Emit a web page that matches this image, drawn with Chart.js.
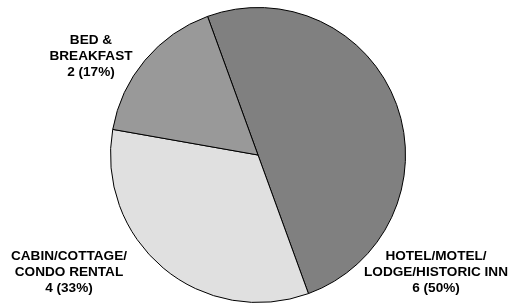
<!DOCTYPE html>
<html>
<head>
<meta charset="utf-8">
<script src="https://cdn.jsdelivr.net/npm/chart.js@4"></script>
<style>
  html, body { margin: 0; padding: 0; background: #fff; }
  #wrap { width: 509px; height: 303px; }
</style>
</head>
<body>
<div id="wrap"><canvas id="pieChart" width="509" height="303"></canvas></div>
<script>
// Lodging type data
const categories = ['HOTEL/MOTEL/\nLODGE/HISTORIC INN', 'CABIN/COTTAGE/\nCONDO RENTAL', 'BED &\nBREAKFAST'];
const counts = [6, 4, 2];
const percents = [50, 33, 17];
const sliceColors = ['#808080', '#e0e0e0', '#999999'];

// Where each label block sits (offset of its centre from the pie centre)
const labelOffsets = [[178, 117], [-189, 117], [-167, -99]];

const labelPlugin = {
    id: 'sliceLabels',
    afterDraw(chart) {
        const ctx = chart.ctx;
        const arc = chart.getDatasetMeta(0).data[0];
        const cx = arc.x, cy = arc.y;
        ctx.save();
        ctx.font = 'bold 13.6px "Liberation Sans", Arial, sans-serif';
        ctx.fillStyle = '#000';
        ctx.textAlign = 'center';
        ctx.textBaseline = 'middle';
        categories.forEach((cat, i) => {
            const lines = cat.split('\n');
            lines.push(counts[i] + ' (' + percents[i] + '%)');
            const x = cx + labelOffsets[i][0];
            const y = cy + labelOffsets[i][1];
            const lh = 16;
            lines.forEach((ln, j) => {
                ctx.fillText(ln, x, y + (j - (lines.length - 1) / 2) * lh);
            });
        });
        ctx.restore();
    }
};

new Chart(document.getElementById('pieChart').getContext('2d'), {
    type: 'pie',
    data: {
        labels: categories,
        datasets: [{
            data: counts,
            backgroundColor: sliceColors,
            borderColor: '#000',
            borderWidth: 1
        }]
    },
    options: {
        responsive: false,
        animation: false,
        rotation: -20,
        layout: { padding: { top: 7, bottom: 0, left: 7, right: 0 } },
        plugins: {
            legend: { display: false },
            tooltip: { enabled: false }
        }
    },
    plugins: [labelPlugin]
});
</script>
</body>
</html>
